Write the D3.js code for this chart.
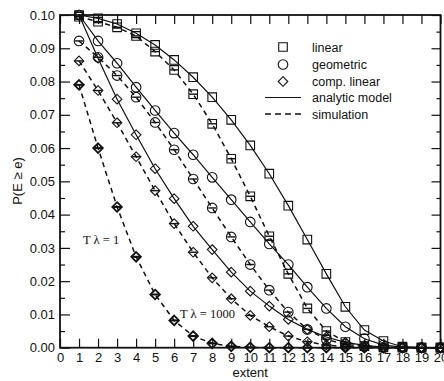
<!DOCTYPE html>
<html>
<head>
<meta charset="utf-8">
<script src="https://cdn.jsdelivr.net/npm/d3@7"></script>
<style>
  html, body { margin: 0; padding: 0; background: #fff; }
  svg { display: block; font-family: "Liberation Sans", Arial, Helvetica, sans-serif; }
</style>
</head>
<body>
<svg id="chart" width="444" height="381"></svg>
<script>
// extent values (x axis)
const extent = [1, 2, 3, 4, 5, 6, 7, 8, 9, 10, 11, 12, 13, 14, 15, 16, 17, 18, 19, 20];

// P(E >= e)
const linearModel = [0.1, 0.099, 0.0973, 0.0945, 0.091, 0.0865, 0.0813, 0.0753, 0.0685, 0.0608,
  0.0523, 0.0427, 0.0325, 0.0222, 0.0123, 0.0053, 0.002, 0.0003, 0, 0];
const linearSim = [0.0995, 0.098, 0.0963, 0.0937, 0.089, 0.0835, 0.0762, 0.0673, 0.0568, 0.0455,
  0.0335, 0.0222, 0.0118, 0.005, 0.0017, 0.0005, 0.0001, 0, 0, 0];
const geometricModel = [0.1, 0.0922, 0.0855, 0.0783, 0.0713, 0.0645, 0.058, 0.0512, 0.0445, 0.0378,
  0.0312, 0.025, 0.0182, 0.0118, 0.0063, 0.0027, 0.0008, 0.0002, 0, 0];
const geometricSim = [0.0922, 0.0873, 0.0818, 0.0753, 0.0677, 0.0595, 0.0507, 0.042, 0.0333, 0.025,
  0.0173, 0.0107, 0.0055, 0.0025, 0.001, 0.0003, 0, 0, 0, 0];
const compLinearModel = [0.1, 0.087, 0.0747, 0.064, 0.0538, 0.0448, 0.0365, 0.0295, 0.0227, 0.017,
  0.0125, 0.0085, 0.0055, 0.0032, 0.0016, 0.0007, 0.0002, 0, 0, 0];
const compLinearSim = [0.0862, 0.0773, 0.0676, 0.0574, 0.0472, 0.0373, 0.0287, 0.021, 0.0147, 0.0097,
  0.0063, 0.0035, 0.0018, 0.0008, 0.0003, 0.0001, 0, 0, 0, 0];
const compLinearSimT1 = [0.079, 0.06, 0.0423, 0.0273, 0.016, 0.0082, 0.0035, 0.0013, 0.0004, 0.0001,
  0, 0, 0, 0, 0, 0, 0, 0, 0, 0];

const xTicks = [0, 1, 2, 3, 4, 5, 6, 7, 8, 9, 10, 11, 12, 13, 14, 15, 16, 17, 18, 19, 20];
const yTicks = [0, 0.01, 0.02, 0.03, 0.04, 0.05, 0.06, 0.07, 0.08, 0.09, 0.1];
const yMinorTicks = [0.005, 0.015, 0.025, 0.035, 0.045, 0.055, 0.065, 0.075, 0.085, 0.095];

const legendLabels = ['linear', 'geometric', 'comp. linear', 'analytic model', 'simulation'];

const series = [
  { values: linearModel, shape: 'square', dashed: false },
  { values: linearSim, shape: 'square', dashed: true },
  { values: geometricModel, shape: 'circle', dashed: false },
  { values: geometricSim, shape: 'circle', dashed: true },
  { values: compLinearModel, shape: 'diamond', dashed: false },
  { values: compLinearSim, shape: 'diamond', dashed: true },
  { values: compLinearSimT1, shape: 'diamond', dashed: true, heavy: true },
];

const ink = '#111';
const svg = d3.select('#chart');

const plotLeft = 60, plotRight = 440.5, plotTop = 15, plotBottom = 347.7;
const x = d3.scaleLinear().domain([0, 20]).range([plotLeft, plotRight]);
const y = d3.scaleLinear().domain([0, 0.1]).range([plotBottom, plotTop]);

// shape paths centred on 0,0
function shapePath(shape) {
  if (shape === 'square') return 'M-4.3,-4.3H4.3V4.3H-4.3Z';
  if (shape === 'diamond') return 'M0,-4.8L4.8,0L0,4.8L-4.8,0Z';
  return 'M4.8,0A4.8,4.8 0 1,1 -4.8,0A4.8,4.8 0 1,1 4.8,0Z';
}

const line = d3.line().x((d, i) => x(extent[i])).y(d => y(d));

const plot = svg.append('g');
series.forEach(s => {
  plot.append('path')
    .datum(s.values)
    .attr('d', line)
    .attr('fill', 'none')
    .attr('stroke', ink)
    .attr('stroke-width', s.dashed ? 1.5 : 1.2)
    .attr('stroke-dasharray', s.dashed ? '5,4' : null);
});

series.forEach(s => {
  const g = plot.append('g');
  const m = g.selectAll('g').data(s.values).join('g')
    .attr('transform', (d, i) => `translate(${x(extent[i])},${y(d)})`);
  m.append('path')
    .attr('d', shapePath(s.shape))
    .attr('fill', 'none')
    .attr('stroke', ink)
    .attr('stroke-width', s.heavy ? 1.8 : 1.1);
  if (s.dashed) {
    m.append('line')
      .attr('x1', -4).attr('x2', 4)
      .attr('stroke', ink)
      .attr('stroke-width', s.heavy ? 2 : 1.4);
  }
});

// axes: ticks point inwards
const axisStyle = g => {
  g.select('.domain').remove();
  g.selectAll('line').attr('stroke', ink).attr('stroke-width', 1.2);
  g.selectAll('text').attr('fill', ink).attr('font-size', 13);
};

svg.append('g')
  .attr('transform', `translate(0,${plotBottom})`)
  .call(d3.axisBottom(x).tickValues(xTicks).tickSize(-9).tickSizeOuter(0).tickPadding(5).tickFormat(d3.format('d')))
  .call(axisStyle);
svg.append('g')
  .attr('transform', `translate(0,${plotTop})`)
  .call(d3.axisTop(x).tickValues(xTicks).tickSize(-9).tickSizeOuter(0).tickFormat(''))
  .call(axisStyle);
svg.append('g')
  .attr('transform', `translate(${plotLeft},0)`)
  .call(d3.axisLeft(y).tickValues(yTicks).tickSize(-10).tickSizeOuter(0).tickPadding(5).tickFormat(d3.format('.2f')))
  .call(axisStyle);
svg.append('g')
  .attr('transform', `translate(${plotLeft},0)`)
  .call(d3.axisLeft(y).tickValues(yMinorTicks).tickSize(-5).tickSizeOuter(0).tickFormat(''))
  .call(axisStyle);
svg.append('g')
  .attr('transform', `translate(${plotRight},0)`)
  .call(d3.axisRight(y).tickValues(yTicks).tickSize(-9).tickSizeOuter(0).tickFormat(''))
  .call(axisStyle);
svg.append('g')
  .attr('transform', `translate(${plotRight},0)`)
  .call(d3.axisRight(y).tickValues(yMinorTicks).tickSize(-4).tickSizeOuter(0).tickFormat(''))
  .call(axisStyle);

svg.append('rect')
  .attr('x', plotLeft).attr('y', plotTop)
  .attr('width', plotRight - plotLeft).attr('height', plotBottom - plotTop)
  .attr('fill', 'none').attr('stroke', ink).attr('stroke-width', 1.8);

// axis titles
svg.append('text')
  .attr('x', (plotLeft + plotRight) / 2).attr('y', 377)
  .attr('text-anchor', 'middle').attr('font-size', 13).attr('fill', ink)
  .text('extent');
svg.append('text')
  .attr('transform', 'translate(22,181) rotate(-90)')
  .attr('text-anchor', 'middle').attr('font-size', 13).attr('fill', ink)
  .text('P(E ≥ e)');

// legend
const legend = svg.append('g');
const legendY = [47, 64.5, 81.5, 97.5, 114];
['square', 'circle', 'diamond'].forEach((shape, i) => {
  legend.append('path')
    .attr('transform', `translate(283,${legendY[i]})`)
    .attr('d', shapePath(shape))
    .attr('fill', 'none').attr('stroke', ink).attr('stroke-width', 1.1);
});
legend.append('line')
  .attr('x1', 265).attr('x2', 301).attr('y1', legendY[3]).attr('y2', legendY[3])
  .attr('stroke', ink).attr('stroke-width', 1.2);
legend.append('line')
  .attr('x1', 265).attr('x2', 301).attr('y1', legendY[4]).attr('y2', legendY[4])
  .attr('stroke', ink).attr('stroke-width', 1.5).attr('stroke-dasharray', '6,4');
legendLabels.forEach((t, i) => {
  legend.append('text')
    .attr('x', 312).attr('y', legendY[i] + 4.5)
    .attr('font-size', 12.5).attr('fill', ink)
    .text(t);
});

// annotations
const serif = '"Liberation Serif", "Times New Roman", Times, serif';
svg.append('text')
  .attr('x', 83).attr('y', 244)
  .attr('font-family', serif).attr('font-size', 12.5).attr('fill', ink)
  .text('T λ = 1');
svg.append('text')
  .attr('x', 180).attr('y', 318)
  .attr('font-family', serif).attr('font-size', 12.5).attr('fill', ink)
  .text('T λ = 1000');
</script>
</body>
</html>
